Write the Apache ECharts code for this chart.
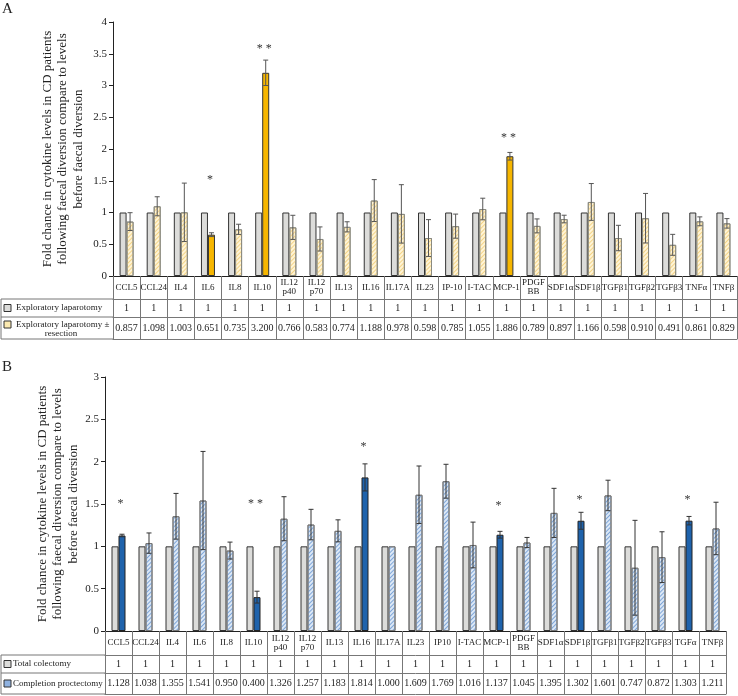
<!DOCTYPE html>
<html>
<head>
<meta charset="utf-8">
<script src="https://cdn.jsdelivr.net/npm/echarts@6/dist/echarts.min.js"></script>
<style>
html,body{margin:0;padding:0;background:#fff;}
#c{width:738px;height:696px;}
</style>
</head>
<body>
<div id="c"></div>
<script>
// ---------- DATA ----------
const catsA = ['CCL5','CCL24','IL4','IL6','IL8','IL10','IL12\np40','IL12\np70','IL13','IL16','IL17A','IL23','IP-10','I-TAC','MCP-1','PDGF\nBB','SDF1α','SDF1β','TGFβ1','TGFβ2','TGFβ3','TNFα','TNFβ'];
const baseA = [1,1,1,1,1,1,1,1,1,1,1,1,1,1,1,1,1,1,1,1,1,1,1];
const valA = [0.857,1.098,1.003,0.651,0.735,3.200,0.766,0.583,0.774,1.188,0.978,0.598,0.785,1.055,1.886,0.789,0.897,1.166,0.598,0.910,0.491,0.861,0.829];
const errA = [0.14,0.15,0.46,0.03,0.08,0.20,0.19,0.19,0.08,0.33,0.46,0.29,0.19,0.17,0.06,0.11,0.06,0.29,0.20,0.39,0.165,0.07,0.075];
const starA = ['','','','*','','* *','','','','','','','','','* *','','','','','','','',''];
const starYA = [0,0,0,1.51,0,3.57,0,0,0,0,0,0,0,0,2.18,0,0,0,0,0,0,0,0];

const catsB = ['CCL5','CCL24','IL4','IL6','IL8','IL10','IL12\np40','IL12\np70','IL13','IL16','IL17A','IL23','IP10','I-TAC','MCP-1','PDGF\nBB','SDF1α','SDF1β','TGFβ1','TGFβ2','TGFβ3','TGFα','TNFβ'];
const baseB = [1,1,1,1,1,1,1,1,1,1,1,1,1,1,1,1,1,1,1,1,1,1,1];
const valB = [1.128,1.038,1.355,1.541,0.950,0.400,1.326,1.257,1.183,1.814,1.000,1.609,1.769,1.016,1.137,1.045,1.395,1.302,1.601,0.747,0.872,1.303,1.211];
const errB = [0.015,0.12,0.27,0.58,0.10,0.07,0.26,0.18,0.13,0.16,0,0.34,0.20,0.27,0.04,0.06,0.29,0.10,0.18,0.56,0.30,0.05,0.31];
const starB = ['*','','','','','* *','','','','*','','','','','*','','','*','','','','*',''];
const starYB = [1.5,0,0,0,0,1.5,0,0,0,2.17,0,0,0,0,1.48,0,0,1.55,0,0,0,1.55,0];

const ticksA = {min:0, max:4, interval:0.5};
const ticksB = {min:0, max:3, interval:0.5};

// ---------- STYLE ----------
const SERIF = '"Liberation Serif","DejaVu Serif",serif';
const BW = 7;
const greyStyle = {color:'#dcdcda', borderColor:'#333', borderWidth:1};
const orangeSolid = {color:'#f6b600', borderColor:'#333', borderWidth:1};
const yellowHatch = {color:'#fff4d6', borderColor:'#8a8a80', borderWidth:1,
  decal:{symbol:'rect', symbolSize:1, color:'#f3d488', dashArrayX:[1,0], dashArrayY:[1,2], rotation:-Math.PI/4}};
const blueSolid = {color:'#1f63ac', borderColor:'#222', borderWidth:1};
const blueHatch = {color:'#dce8f6', borderColor:'#777', borderWidth:1,
  decal:{symbol:'rect', symbolSize:1, color:'#7fa6d8', dashArrayX:[1,0], dashArrayY:[1,1.5], rotation:-Math.PI/4}};

function errSeries(xi, yi, vals, errs, color){
  return {
    type:'custom', xAxisIndex:xi, yAxisIndex:yi, z:10, silent:true,
    data: vals.map((v,i)=>[i, v, errs[i]]),
    renderItem:function(params, api){
      const i = api.value(0), v = api.value(1), e = api.value(2);
      if(!e) return null;
      const x = api.coord([i, v])[0] + BW/2;
      const yt = api.coord([i, v+e])[1];
      const yb = api.coord([i, v-e])[1];
      const st = {stroke:color, lineWidth:1};
      return {type:'group', children:[
        {type:'line', shape:{x1:x, y1:yt, x2:x, y2:yb}, style:st},
        {type:'line', shape:{x1:x-2.5, y1:yt, x2:x+2.5, y2:yt}, style:st},
        {type:'line', shape:{x1:x-2.5, y1:yb, x2:x+2.5, y2:yb}, style:st}
      ]};
    }
  };
}
function starSeries(xi, yi, labels, ys){
  const d = [];
  labels.forEach((l,i)=>{ if(l) d.push([i, ys[i], l]); });
  return {
    type:'custom', xAxisIndex:xi, yAxisIndex:yi, z:11, silent:true,
    data:d,
    renderItem:function(params, api){
      const p = api.coord([api.value(0), api.value(1)]);
      return {type:'text', x:p[0]+2, y:p[1], style:{text:d[params.dataIndex][2], align:'center', verticalAlign:'middle', fontSize:12, fontFamily:SERIF, fill:'#333'}};
    }
  };
}
function tableAxes(gi, cats, base, vals, rows){
  const lab = {fontFamily:SERIF, color:'#222', interval:0, verticalAlign:'middle'};
  return [
    {gridIndex:gi, type:'category', data:cats, position:'bottom',
      axisLine:{lineStyle:{color:'#222'}},
      axisTick:{show:true, interval:0, length:rows[0], lineStyle:{color:'#777'}},
      axisLabel:Object.assign({}, lab, {fontSize:9, lineHeight:9, margin:rows[0]/2})},
    {gridIndex:gi, type:'category', data:base.map(String), position:'bottom', offset:rows[0],
      axisLine:{lineStyle:{color:'#777'}},
      axisTick:{show:true, interval:0, length:rows[1], lineStyle:{color:'#777'}},
      axisLabel:Object.assign({}, lab, {fontSize:10, margin:rows[1]/2})},
    {gridIndex:gi, type:'category', data:vals.map(v=>v.toFixed(3)), position:'bottom', offset:rows[0]+rows[1],
      axisLine:{lineStyle:{color:'#777'}},
      axisTick:{show:true, interval:0, length:rows[2], lineStyle:{color:'#777'}},
      axisLabel:Object.assign({}, lab, {fontSize:10, margin:rows[2]/2})},
    {gridIndex:gi, type:'category', data:cats, position:'bottom', offset:rows[0]+rows[1]+rows[2],
      axisLine:{lineStyle:{color:'#777'}}, axisTick:{show:false}, axisLabel:{show:false}}
  ];
}
const yTitle = 'Fold chance in cytokine levels in CD patients\nfollowing faecal diversion compare to levels\nbefore faecal diversion';
function yAxisDef(gi, t, gap){
  return {gridIndex:gi, type:'value', min:t.min, max:t.max, interval:t.interval,
    axisLine:{show:true, lineStyle:{color:'#222'}},
    axisTick:{show:true, length:4, lineStyle:{color:'#222'}},
    axisLabel:{fontSize:11, fontFamily:SERIF, color:'#222', margin:6},
    splitLine:{show:false},
    name:yTitle, nameLocation:'middle', nameGap:gap, nameMoveOverlap:false,
    nameTextStyle:{fontSize:13, lineHeight:15.5, fontFamily:SERIF, color:'#222', align:'center'}};
}

const chart = echarts.init(document.getElementById('c'), null, {renderer:'canvas'});
const gA = {left:113, right:1, top:22, height:254};
const gB = {left:105, right:12, top:377, height:254};
const rowsA = [23,18,22];
const rowsB = [24,18,21];

const line = (x1,y1,x2,y2)=>({type:'line', shape:{x1,y1,x2,y2}, style:{stroke:'#777', lineWidth:1}, silent:true});
const txt = (x,y,t,opt)=>({type:'text', x, y, silent:true, style:Object.assign({text:t, fontSize:9, fontFamily:SERIF, fill:'#222', verticalAlign:'middle'}, opt||{})});
const box = (x,y,fill)=>({type:'rect', shape:{x, y, width:7, height:7}, style:{fill, stroke:'#333', lineWidth:1}, silent:true});

const yA0 = gA.top+gA.height, yA1 = yA0+rowsA[0], yA2 = yA1+rowsA[1], yA3 = yA2+rowsA[2];
const yB0 = gB.top+gB.height, yB1 = yB0+rowsB[0], yB2 = yB1+rowsB[1], yB3 = yB2+rowsB[2];

chart.setOption({
  backgroundColor:'#fff',
  animation:false,
  grid:[gA, gB],
  xAxis:[].concat(tableAxes(0, catsA, baseA, valA, rowsA), tableAxes(1, catsB, baseB, valB, rowsB)),
  yAxis:[yAxisDef(0, ticksA, 27), yAxisDef(1, ticksB, 24)],
  series:[
    {type:'bar', xAxisIndex:0, yAxisIndex:0, data:baseA, barWidth:BW, barGap:'0%', itemStyle:greyStyle},
    {type:'bar', xAxisIndex:0, yAxisIndex:0, barWidth:BW,
      data:valA.map((v,i)=>({value:v, itemStyle: starA[i] ? orangeSolid : yellowHatch}))},
    errSeries(0, 0, valA, errA, '#555'),
    starSeries(0, 0, starA, starYA),
    {type:'bar', xAxisIndex:4, yAxisIndex:1, data:baseB, barWidth:BW, barGap:'0%', itemStyle:greyStyle},
    {type:'bar', xAxisIndex:4, yAxisIndex:1, barWidth:BW,
      data:valB.map((v,i)=>({value:v, itemStyle: starB[i] ? blueSolid : blueHatch}))},
    errSeries(4, 1, valB, errB, '#333'),
    starSeries(4, 1, starB, starYB)
  ],
  graphic:[
    {type:'text', left:2, top:2, style:{text:'A', fontSize:15, fontFamily:SERIF, fill:'#222'}},
    {type:'text', left:2, top:360, style:{text:'B', fontSize:15, fontFamily:SERIF, fill:'#222'}},
    // table A left column
    line(1, yA1, gA.left, yA1), line(1, yA2, gA.left, yA2), line(1, yA3, gA.left, yA3), line(1, yA1, 1, yA3),
    box(4, (yA1+yA2)/2-3.5, '#dcdcda'),
    txt(16, (yA1+yA2)/2, 'Exploratory laparotomy'),
    box(4, yA2+4, '#fbe9b0'),
    txt(16, yA2+7.5, 'Exploratory laparotomy ±'),
    txt(61, yA2+16.5, 'resection', {align:'center'}),
    // table B left column
    line(1, yB1, gB.left, yB1), line(1, yB2, gB.left, yB2), line(1, yB3, gB.left, yB3), line(1, yB1, 1, yB3),
    box(4, (yB1+yB2)/2-3.5, '#dcdcda'),
    txt(13, (yB1+yB2)/2, 'Total colectomy'),
    box(4, (yB2+yB3)/2-3.5, '#8fb2e0'),
    txt(13, (yB2+yB3)/2, 'Completion proctectomy')
  ]
});
</script>
</body>
</html>
